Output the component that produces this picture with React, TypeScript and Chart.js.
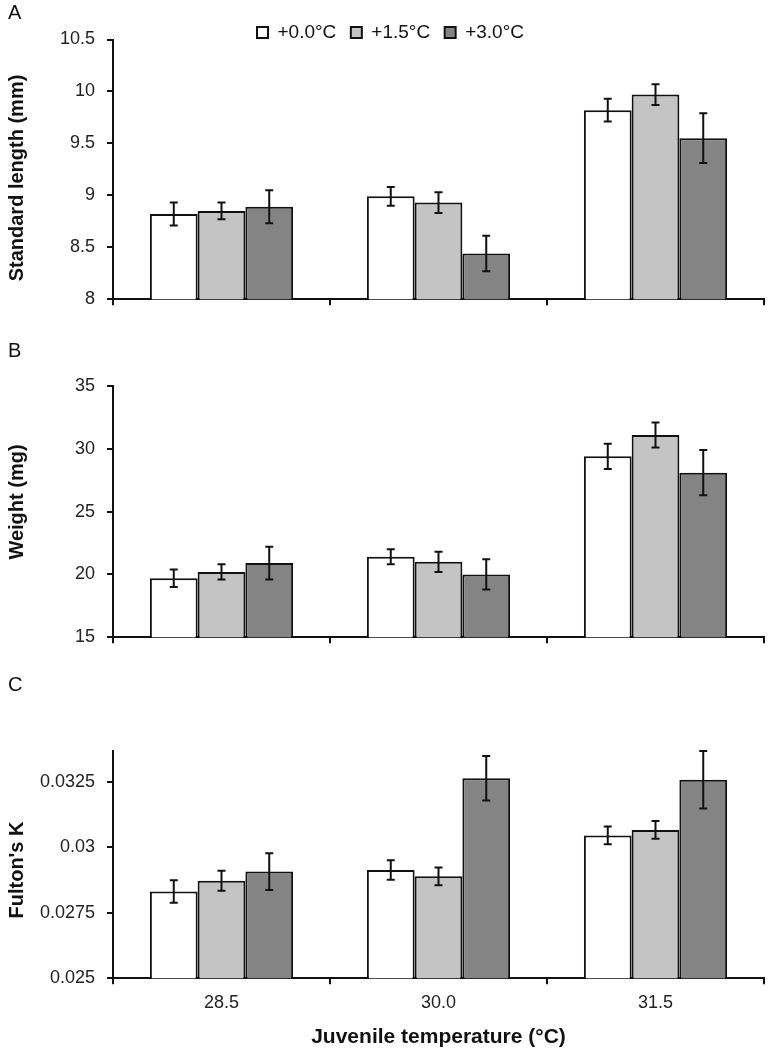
import React, { useEffect, useRef } from 'react';
import { Chart, registerables } from 'chart.js';

Chart.register(...registerables);

const categories = ['28.5', '30.0', '31.5'];
const seriesLabels = ['+0.0°C', '+1.5°C', '+3.0°C'];
const seriesColors = ['#ffffff', '#c4c4c4', '#848484'];

// Panel A: standard length (mm)
const lengthMean00 = [8.82, 8.99, 9.82];
const lengthErr00 = [0.11, 0.09, 0.11];
const lengthMean15 = [8.85, 8.93, 9.97];
const lengthErr15 = [0.08, 0.1, 0.1];
const lengthMean30 = [8.89, 8.44, 9.55];
const lengthErr30 = [0.16, 0.17, 0.24];

// Panel B: weight (mg)
const weightMean00 = [19.7, 21.4, 29.4];
const weightErr00 = [0.7, 0.6, 1.0];
const weightMean15 = [20.2, 21.0, 31.1];
const weightErr15 = [0.6, 0.8, 1.0];
const weightMean30 = [20.9, 20.0, 28.1];
const weightErr30 = [1.3, 1.2, 1.8];

// Panel C: Fulton's K
const kMean00 = [0.02832, 0.02914, 0.03046];
const kErr00 = [0.00043, 0.00037, 0.00034];
const kMean15 = [0.02873, 0.0289, 0.03067];
const kErr15 = [0.00038, 0.00034, 0.00034];
const kMean30 = [0.02908, 0.03265, 0.03259];
const kErr30 = [0.0007, 0.00085, 0.0011];

const FONT = "'Liberation Sans', Arial, sans-serif";
const INK = '#111111';

const errorBars = {
  id: 'errorBars',
  afterDatasetsDraw(chart: any) {
    const { ctx } = chart;
    const y = chart.scales.y;
    ctx.save();
    ctx.strokeStyle = INK;
    ctx.lineWidth = 2;
    chart.data.datasets.forEach((ds: any, i: number) => {
      const meta = chart.getDatasetMeta(i);
      const errs = ds.errors || [];
      meta.data.forEach((bar: any, j: number) => {
        const v = ds.data[j];
        const e = errs[j] || 0;
        const yt = y.getPixelForValue(v + e);
        const yb = y.getPixelForValue(v - e);
        const x = bar.x;
        const cap = 4;
        ctx.beginPath();
        ctx.moveTo(x, yt);
        ctx.lineTo(x, yb);
        ctx.moveTo(x - cap, yt);
        ctx.lineTo(x + cap, yt);
        ctx.moveTo(x - cap, yb);
        ctx.lineTo(x + cap, yb);
        ctx.stroke();
      });
    });
    ctx.restore();
  },
};

const panelText = {
  id: 'panelText',
  afterDraw(chart: any, _args: any, opts: any) {
    const ctx = chart.ctx;
    ctx.save();
    ctx.fillStyle = INK;
    if (opts.letter) {
      ctx.font = `20px ${FONT}`;
      ctx.textAlign = 'left';
      ctx.textBaseline = 'alphabetic';
      ctx.fillText(opts.letter, opts.letterX, opts.letterY);
    }
    if (opts.title) {
      ctx.font = `bold 20px ${FONT}`;
      ctx.translate(opts.titleX, opts.titleY);
      ctx.rotate(-Math.PI / 2);
      ctx.textAlign = 'center';
      ctx.textBaseline = 'middle';
      ctx.fillText(opts.title, 0, 0);
    }
    ctx.restore();
  },
};

type PanelProps = {
  top: number;
  height: number;
  means: number[][];
  errs: number[][];
  min: number;
  max: number;
  step: number;
  letter: string;
  letterY: number;
  yTitle: string;
  yTitleY: number;
  padTop: number;
  padBottom: number;
  legend: boolean;
  showX: boolean;
  xHeight?: number;
  maxTick?: number;
};

function Panel(p: PanelProps) {
  const ref = useRef<HTMLCanvasElement | null>(null);
  useEffect(() => {
    if (!ref.current) return;
    const chart = new Chart(ref.current, {
      type: 'bar',
      data: {
        labels: categories,
        datasets: p.means.map((m, i) => ({
          label: seriesLabels[i],
          data: m,
          errors: p.errs[i],
          backgroundColor: seriesColors[i],
          borderColor: INK,
          borderWidth: 2,
          borderSkipped: false,
          categoryPercentage: 0.66,
          barPercentage: 1.0,
        })) as any,
      },
      options: {
        animation: false,
        responsive: false,
        maintainAspectRatio: false,
        layout: { padding: { left: 17, right: 4, top: p.padTop, bottom: p.padBottom } },
        plugins: {
          legend: p.legend
            ? {
                display: true,
                position: 'top',
                align: 'center',
                maxHeight: 31,
                labels: {
                  boxWidth: 11,
                  boxHeight: 11,
                  padding: 14.5,
                  color: INK,
                  font: { family: FONT, size: 19 },
                },
              }
            : { display: false },
          tooltip: { enabled: false },
          panelText: {
            letter: p.letter,
            letterX: 8,
            letterY: p.letterY,
            title: p.yTitle,
            titleX: 17,
            titleY: p.yTitleY,
          },
        } as any,
        scales: {
          x: {
            offset: true,
            grid: {
              offset: true,
              drawOnChartArea: false,
              drawTicks: true,
              tickLength: 6,
              color: INK,
              lineWidth: 2,
            },
            border: { display: true, color: INK, width: 2 },
            ticks: {
              display: p.showX,
              color: '#222',
              padding: 8,
              font: { family: FONT, size: 18 },
            },
            title: p.showX
              ? {
                  display: true,
                  text: 'Juvenile temperature (°C)',
                  color: INK,
                  font: { family: FONT, size: 21, weight: 'bold' },
                  padding: { top: 0, bottom: 5 },
                }
              : { display: false },
            afterFit: (s: any) => {
              if (p.xHeight) s.height = p.xHeight;
            },
          },
          y: {
            min: p.min,
            max: p.max,
            ticks: {
              stepSize: p.step,
              color: '#222',
              padding: 12,
              font: { family: FONT, size: 18 },
              callback: (v: any) => String(+(+v).toFixed(5)),
            },
            grid: {
              drawOnChartArea: false,
              drawTicks: true,
              tickLength: 6,
              color: INK,
              lineWidth: 2,
            },
            border: { display: true, color: INK, width: 2 },
            afterFit: (s: any) => {
              s.width = 96;
            },
            afterBuildTicks: (s: any) => {
              if (p.maxTick !== undefined) {
                s.ticks = s.ticks.filter((t: any) => t.value <= p.maxTick! + 1e-9);
              }
            },
          },
        } as any,
      },
      plugins: [errorBars, panelText],
    } as any);
    return () => chart.destroy();
  }, []);
  return (
    <canvas
      ref={ref}
      width={768}
      height={p.height}
      style={{ position: 'absolute', left: 0, top: p.top, width: 768, height: p.height }}
    />
  );
}

export default function App() {
  return (
    <div style={{ position: 'absolute', left: 0, top: 0, width: 768, height: 1055, background: '#fff' }}>
      <Panel
        top={0}
        height={322}
        means={[lengthMean00, lengthMean15, lengthMean30]}
        errs={[lengthErr00, lengthErr15, lengthErr30]}
        min={8}
        max={10.5}
        step={0.5}
        letter="A"
        letterY={19}
        yTitle="Standard length (mm)"
        yTitleY={178}
        padTop={8.5}
        padBottom={13.5}
        legend={true}
        showX={false}
      />
      <Panel
        top={330}
        height={330}
        means={[weightMean00, weightMean15, weightMean30]}
        errs={[weightErr00, weightErr15, weightErr30]}
        min={15}
        max={35}
        step={5}
        letter="B"
        letterY={27}
        yTitle="Weight (mg)"
        yTitleY={172}
        padTop={56}
        padBottom={14}
        legend={false}
        showX={false}
      />
      <Panel
        top={660}
        height={395}
        means={[kMean00, kMean15, kMean30]}
        errs={[kErr00, kErr15, kErr30]}
        min={0.025}
        max={0.0337}
        step={0.0025}
        maxTick={0.0325}
        letter="C"
        letterY={31}
        yTitle="Fulton's K"
        yTitleY={210}
        padTop={90.7}
        padBottom={0}
        xHeight={76.7}
        legend={false}
        showX={true}
      />
    </div>
  );
}
